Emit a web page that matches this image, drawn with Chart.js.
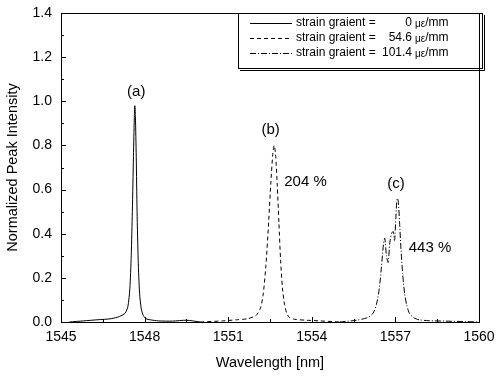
<!DOCTYPE html>
<html>
<head>
<meta charset="utf-8">
<script src="https://cdn.jsdelivr.net/npm/chart.js@4.4.1/dist/chart.umd.min.js"></script>
<style>
  body { margin: 0; background: #fff; }
  #wrap { width: 502px; height: 376px; }
</style>
</head>
<body>
<div id="wrap"><canvas id="spectrum" width="502" height="376"></canvas></div>
<script>
// spectrum (a): strain gradient 0
const waveA = [1545.3, 1545.8, 1546.3, 1546.8, 1547.1, 1547.3, 1547.4, 1547.47, 1547.52, 1547.56, 1547.6, 1547.63, 1547.65, 1547.67, 1547.7, 1547.73, 1547.77, 1547.82, 1547.88, 1547.95, 1548.05, 1548.2, 1548.5, 1549.0, 1549.5, 1550.0];
const intA = [0.0, 0.005, 0.01, 0.015, 0.025, 0.04, 0.07, 0.15, 0.3, 0.5, 0.75, 0.92, 0.98, 0.93, 0.75, 0.5, 0.28, 0.13, 0.06, 0.03, 0.015, 0.01, 0.005, 0.004, 0.008, 0.0];

// spectrum (b): strain gradient 54.6
const waveB = [1550.0, 1550.8, 1551.3, 1551.7, 1552.0, 1552.15, 1552.25, 1552.35, 1552.45, 1552.53, 1552.6, 1552.65, 1552.7, 1552.76, 1552.82, 1552.88, 1552.95, 1553.02, 1553.1, 1553.2, 1553.4, 1553.8, 1554.3, 1555.0];
const intB = [0.0, 0.005, 0.01, 0.015, 0.03, 0.06, 0.12, 0.25, 0.45, 0.63, 0.76, 0.80, 0.76, 0.62, 0.45, 0.28, 0.15, 0.08, 0.04, 0.02, 0.012, 0.008, 0.005, 0.0];

// spectrum (c): strain gradient 101.4
const waveC = [1555.0, 1555.6, 1556.0, 1556.2, 1556.32, 1556.42, 1556.5, 1556.57, 1556.62, 1556.68, 1556.74, 1556.8, 1556.86, 1556.92, 1556.97, 1557.02, 1557.06, 1557.1, 1557.15, 1557.2, 1557.26, 1557.33, 1557.4, 1557.5, 1557.65, 1557.85, 1558.2, 1558.8, 1559.5, 1560.0];
const intC = [0.0, 0.008, 0.02, 0.04, 0.08, 0.15, 0.25, 0.35, 0.38, 0.3, 0.27, 0.36, 0.40, 0.41, 0.37, 0.48, 0.56, 0.55, 0.45, 0.33, 0.22, 0.13, 0.08, 0.04, 0.02, 0.01, 0.006, 0.004, 0.002, 0.0];

const legendNames = ['strain graient =', 'strain graient =', 'strain graient ='];
const legendValues = ['0', '54.6', '101.4'];
const lineDashes = [[], [4, 3], [6, 2, 1, 2]];

// peak labels (data coordinates)
const noteText = ['(a)', '(b)', '(c)', '204 %', '443 %'];
const noteX = [1547.7, 1552.52, 1557.02, 1553.01, 1557.48];
const noteY = [1.042, 0.87, 0.625, 0.634, 0.335];
const noteAlign = ['center', 'center', 'center', 'left', 'left'];

const toPoints = (xs, ys) => xs.map((x, i) => ({ x: x, y: ys[i] }));
const FONT = '"Liberation Sans", Arial, sans-serif';

// frame + inward ticks
const framePlugin = {
  id: 'frame',
  afterDatasetsDraw(chart) {
    const { ctx, scales } = chart;
    const l = scales.x.getPixelForValue(1545), r = scales.x.getPixelForValue(1560);
    const t = scales.y.getPixelForValue(1.4), b = scales.y.getPixelForValue(0);
    ctx.save();
    ctx.strokeStyle = '#000';
    ctx.lineWidth = 1;
    ctx.strokeRect(Math.round(l) + 0.5, Math.round(t) + 0.5, Math.round(r - l), Math.round(b - t));
    ctx.beginPath();
    for (let v = 0; v <= 14; v++) {
      const y = Math.round(scales.y.getPixelForValue(v / 10)) + 0.5;
      const len = v % 2 === 0 ? 5 : 3;
      ctx.moveTo(l, y);
      ctx.lineTo(l + len, y);
    }
    for (let v = 0; v <= 10; v++) {
      const x = Math.round(scales.x.getPixelForValue(1545 + v * 1.5)) + 0.5;
      const len = v % 2 === 0 ? 5 : 3;
      ctx.moveTo(x, b);
      ctx.lineTo(x, b - len);
    }
    ctx.stroke();
    ctx.restore();
  },
};

// legend box + peak annotations
const notesPlugin = {
  id: 'notes',
  afterDraw(chart) {
    const { ctx, scales } = chart;
    ctx.save();
    ctx.fillStyle = '#000';
    ctx.textBaseline = 'middle';
    ctx.font = '15px ' + FONT;
    noteText.forEach((t, i) => {
      ctx.textAlign = noteAlign[i];
      ctx.fillText(t, scales.x.getPixelForValue(noteX[i]), scales.y.getPixelForValue(noteY[i]));
    });

    // legend
    const bx = 238, by = 13, bw = 244, bh = 55;
    ctx.strokeStyle = '#000';
    ctx.lineWidth = 1;
    ctx.strokeRect(bx + 0.5, by + 0.5, bw, bh);
    ctx.beginPath();
    ctx.moveTo(bx + bw + 2.5, by + 2);
    ctx.lineTo(bx + bw + 2.5, by + bh + 2.5);
    ctx.lineTo(bx + 2, by + bh + 2.5);
    ctx.stroke();
    legendNames.forEach((name, i) => {
      const y = by + 10 + i * 15;
      ctx.setLineDash(lineDashes[i]);
      ctx.beginPath();
      ctx.moveTo(250, y + 0.5);
      ctx.lineTo(292, y + 0.5);
      ctx.stroke();
      ctx.setLineDash([]);
      ctx.font = '12px ' + FONT;
      ctx.textAlign = 'left';
      ctx.fillText(name, 296, y);
      ctx.textAlign = 'right';
      ctx.fillText(legendValues[i], 412, y);
      ctx.textAlign = 'left';
      ctx.font = '10px ' + FONT;
      ctx.fillText('\u03bc\u03b5', 415, y + 1);
      const w = ctx.measureText('\u03bc\u03b5').width;
      ctx.font = '12px ' + FONT;
      ctx.fillText('/mm', 415 + w, y);
    });
    ctx.restore();
  },
};

const seriesStyle = (dash) => ({
  borderColor: '#000',
  borderWidth: 1,
  borderDash: dash,
  pointRadius: 0,
  showLine: true,
  fill: false,
  tension: 0.25,
});

new Chart(document.getElementById('spectrum').getContext('2d'), {
  type: 'scatter',
  data: {
    datasets: [
      { label: 'a', data: toPoints(waveA, intA), ...seriesStyle(lineDashes[0]) },
      { label: 'b', data: toPoints(waveB, intB), ...seriesStyle(lineDashes[1]) },
      { label: 'c', data: toPoints(waveC, intC), ...seriesStyle(lineDashes[2]) },
    ],
  },
  options: {
    responsive: false,
    animation: false,
    layout: { padding: { top: 13, right: 23, left: 0, bottom: 0 } },
    plugins: { legend: { display: false }, tooltip: { enabled: false } },
    scales: {
      x: {
        type: 'linear',
        min: 1545,
        max: 1560,
        afterFit: (s) => { s.height = 54; s.paddingLeft = 0; s.paddingRight = 0; },
        grid: { display: false, drawTicks: false },
        border: { display: false },
        ticks: { stepSize: 3, padding: 7, color: '#000', font: { size: 14, family: FONT }, maxRotation: 0, callback: (v) => String(v) },
        title: { display: true, text: 'Wavelength [nm]', color: '#000', font: { size: 14.5, family: FONT }, padding: { top: 4 } },
      },
      y: {
        min: 0,
        max: 1.4,
        afterFit: (s) => { s.width = 61; s.paddingTop = 0; s.paddingBottom = 0; },
        grid: { display: false, drawTicks: false },
        border: { display: false },
        ticks: { stepSize: 0.2, padding: 9, color: '#000', font: { size: 14, family: FONT }, callback: (v) => v.toFixed(1) },
        title: { display: true, text: 'Normalized Peak Intensity', color: '#000', font: { size: 14.5, family: FONT }, padding: { bottom: 2 } },
      },
    },
  },
  plugins: [framePlugin, notesPlugin],
});
</script>
</body>
</html>
